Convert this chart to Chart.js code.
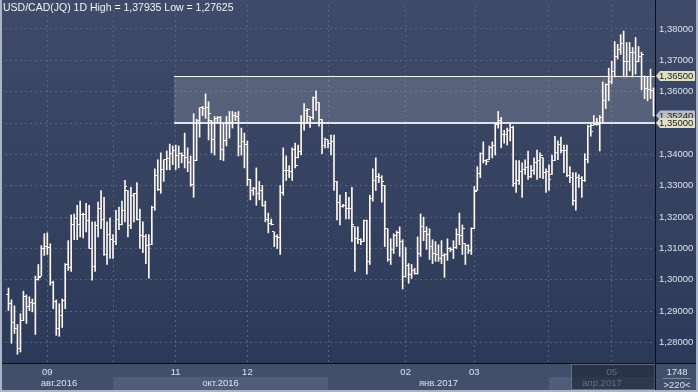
<!DOCTYPE html>
<html>
<head>
<meta charset="utf-8">
<script src="https://cdn.jsdelivr.net/npm/chart.js@4.4.0/dist/chart.umd.min.js"></script>
<style>
  html, body { margin: 0; padding: 0; background: #aab6c8; }
  #wrap { position: absolute; left: 0; top: 0; width: 698px; height: 392px; }
  canvas { display: block; }
</style>
</head>
<body>
<div id="wrap"><canvas id="c" width="698" height="392"></canvas></div>
<script>
// USD/CAD daily bars (one entry per day, left to right)
const highs = [
  1.2974, 1.2936, 1.2917, 1.2858, 1.2892, 1.2964, 1.2952, 1.2946, 1.2939, 1.3012,
  1.3049, 1.3109, 1.3147, 1.3150, 1.3115, 1.2996, 1.2936, 1.2924, 1.2939, 1.3052,
  1.3125, 1.3207, 1.3210, 1.3238, 1.3251, 1.3213, 1.3244, 1.3238, 1.3185, 1.3185,
  1.3248, 1.3285, 1.3263, 1.3185, 1.3197, 1.3144, 1.3222, 1.3232, 1.3251, 1.3317,
  1.3285, 1.3295, 1.3276, 1.3310, 1.3226, 1.3185, 1.3144, 1.3144, 1.3235, 1.3354,
  1.3383, 1.3405, 1.3383, 1.3411, 1.3433, 1.3427, 1.3430, 1.3427, 1.3405, 1.3468,
  1.3421, 1.3395, 1.3530, 1.3512, 1.3549, 1.3553, 1.3593, 1.3568, 1.3508, 1.3521,
  1.3521, 1.3521, 1.3499, 1.3521, 1.3537, 1.3537, 1.3534, 1.3537, 1.3484, 1.3468,
  1.3443, 1.3320, 1.3295, 1.3357, 1.3314, 1.3301, 1.3251, 1.3213, 1.3194, 1.3153,
  1.3144, 1.3301, 1.3421, 1.3395, 1.3364, 1.3421, 1.3436, 1.3430, 1.3524, 1.3562,
  1.3546, 1.3521, 1.3584, 1.3603, 1.3565, 1.3512, 1.3452, 1.3446, 1.3462, 1.3462,
  1.3314, 1.3270, 1.3241, 1.3279, 1.3263, 1.3295, 1.3169, 1.3169, 1.3131, 1.3191,
  1.3191, 1.3270, 1.3354, 1.3389, 1.3339, 1.3332, 1.3301, 1.3163, 1.3131, 1.3147,
  1.3156, 1.3169, 1.3128, 1.3103, 1.3052, 1.3049, 1.3037, 1.3137, 1.3210, 1.3200,
  1.3169, 1.3163, 1.3128, 1.3122, 1.3112, 1.3125, 1.3084, 1.3131, 1.3103, 1.3125,
  1.3163, 1.3213, 1.3175, 1.3115, 1.3112, 1.3166, 1.3298, 1.3361, 1.3405, 1.3440,
  1.3383, 1.3427, 1.3440, 1.3499, 1.3537, 1.3518, 1.3477, 1.3484, 1.3499, 1.3490,
  1.3380, 1.3380, 1.3373, 1.3383, 1.3411, 1.3364, 1.3389, 1.3414, 1.3405, 1.3389,
  1.3354, 1.3367, 1.3398, 1.3458, 1.3443, 1.3455, 1.3430, 1.3430, 1.3361, 1.3342,
  1.3342, 1.3336, 1.3329, 1.3402, 1.3493, 1.3496, 1.3524, 1.3515, 1.3524, 1.3631,
  1.3625, 1.3675, 1.3697, 1.3760, 1.3751, 1.3782, 1.37935, 1.3757, 1.3757, 1.3741,
  1.3773, 1.3744, 1.3726, 1.3650, 1.3647, 1.3672, 1.3612
];
const lows = [
  1.2902, 1.2798, 1.2829, 1.27625, 1.2770, 1.2870, 1.2861, 1.2902, 1.2898, 1.2826,
  1.2999, 1.3012, 1.3078, 1.3081, 1.2983, 1.2908, 1.2823, 1.2820, 1.2848, 1.2908,
  1.3030, 1.3027, 1.3128, 1.3128, 1.3137, 1.3134, 1.3153, 1.3100, 1.2999, 1.3027,
  1.3137, 1.3163, 1.3078, 1.3049, 1.3068, 1.3068, 1.3112, 1.3160, 1.3175, 1.3185,
  1.3137, 1.3163, 1.3185, 1.3191, 1.3100, 1.3087, 1.3052, 1.3005, 1.3112, 1.3222,
  1.3285, 1.3276, 1.3314, 1.3351, 1.3351, 1.3367, 1.3351, 1.3357, 1.3373, 1.3357,
  1.3345, 1.3298, 1.3263, 1.3380, 1.3455, 1.3524, 1.3515, 1.3446, 1.3405, 1.3398,
  1.3499, 1.3383, 1.3380, 1.3427, 1.3452, 1.3484, 1.3508, 1.3395, 1.3398, 1.3357,
  1.3301, 1.3255, 1.3270, 1.3238, 1.3255, 1.3235, 1.3185, 1.3150, 1.3175, 1.3106,
  1.3100, 1.3081, 1.3270, 1.3317, 1.3326, 1.3317, 1.3357, 1.3389, 1.3398, 1.3477,
  1.3499, 1.3486, 1.3512, 1.3540, 1.3490, 1.3402, 1.3421, 1.3421, 1.3398, 1.3285,
  1.3191, 1.3175, 1.3232, 1.3194, 1.3194, 1.3122, 1.3027, 1.3115, 1.3112, 1.3122,
  1.3018, 1.3049, 1.3251, 1.3285, 1.3310, 1.3248, 1.3106, 1.3059, 1.3049, 1.3084,
  1.3106, 1.3075, 1.2971, 1.3008, 1.2989, 1.3005, 1.3018, 1.3018, 1.3075, 1.3125,
  1.3097, 1.3065, 1.3052, 1.3059, 1.3059, 1.3052, 1.3008, 1.3062, 1.3090, 1.3068,
  1.3100, 1.3112, 1.3081, 1.3049, 1.3084, 1.3081, 1.3163, 1.3285, 1.3326, 1.3373,
  1.3367, 1.3383, 1.3389, 1.3398, 1.3484, 1.3421, 1.3436, 1.3430, 1.3443, 1.3298,
  1.3279, 1.3304, 1.3263, 1.3336, 1.3320, 1.3326, 1.3336, 1.3320, 1.3326, 1.3323,
  1.3279, 1.3285, 1.3336, 1.3380, 1.3383, 1.3405, 1.3342, 1.3329, 1.3310, 1.3238,
  1.3222, 1.3295, 1.3263, 1.3314, 1.3373, 1.3458, 1.3493, 1.3493, 1.3411, 1.3499,
  1.3546, 1.3571, 1.3625, 1.3647, 1.3704, 1.3719, 1.3647, 1.3647, 1.3666, 1.3647,
  1.3656, 1.3695, 1.3606, 1.3578, 1.3571, 1.3578, 1.3522
];
const opens = [
  1.2952, 1.2924, 1.2864, 1.2845, 1.2782, 1.2870, 1.2946, 1.2914, 1.2927, 1.2924,
  1.3002, 1.3012, 1.3100, 1.3106, 1.3103, 1.2993, 1.2930, 1.2845, 1.2886, 1.2933,
  1.3049, 1.3040, 1.3178, 1.3197, 1.3178, 1.3210, 1.3207, 1.3188, 1.3100, 1.3043,
  1.3172, 1.3226, 1.3194, 1.3081, 1.3144, 1.3128, 1.3122, 1.3194, 1.3175, 1.3222,
  1.3285, 1.3172, 1.3270, 1.3276, 1.3194, 1.3141, 1.3137, 1.3109, 1.3112, 1.3232,
  1.3332, 1.3288, 1.3351, 1.3383, 1.3386, 1.3402, 1.3411, 1.3395, 1.3402, 1.3398,
  1.3389, 1.3373, 1.3304, 1.3380, 1.3508, 1.3549, 1.3546, 1.3549, 1.3508, 1.3446,
  1.3515, 1.3518, 1.3417, 1.3443, 1.3499, 1.3502, 1.3524, 1.3521, 1.3424, 1.3440,
  1.3433, 1.3320, 1.3285, 1.3292, 1.3276, 1.3285, 1.3238, 1.3191, 1.3181, 1.3153,
  1.3137, 1.3134, 1.3279, 1.3348, 1.3348, 1.3345, 1.3417, 1.3389, 1.3408, 1.3499,
  1.3540, 1.3521, 1.3518, 1.3581, 1.3565, 1.3512, 1.3427, 1.3446, 1.3436, 1.3440,
  1.3314, 1.3248, 1.3235, 1.3238, 1.3229, 1.3229, 1.3169, 1.3131, 1.3128, 1.3122,
  1.3188, 1.3059, 1.3258, 1.3317, 1.3329, 1.3326, 1.3301, 1.3163, 1.3065, 1.3097,
  1.3141, 1.3150, 1.3122, 1.3012, 1.3046, 1.3018, 1.3030, 1.3021, 1.3084, 1.3169,
  1.3153, 1.3144, 1.3106, 1.3084, 1.3081, 1.3068, 1.3078, 1.3081, 1.3100, 1.3097,
  1.3103, 1.3144, 1.3141, 1.3115, 1.3109, 1.3093, 1.3163, 1.3285, 1.3339, 1.3402,
  1.3380, 1.3383, 1.3421, 1.3430, 1.3496, 1.3508, 1.3465, 1.3465, 1.3477, 1.3487,
  1.3307, 1.3317, 1.3345, 1.3351, 1.3357, 1.3329, 1.3348, 1.3373, 1.3380, 1.3389,
  1.3342, 1.3345, 1.3336, 1.3380, 1.3405, 1.3433, 1.3414, 1.3411, 1.3332, 1.3326,
  1.3254, 1.3326, 1.3323, 1.3317, 1.3383, 1.3490, 1.3493, 1.3496, 1.3496, 1.3518,
  1.3571, 1.3622, 1.3634, 1.3663, 1.3713, 1.3735, 1.3754, 1.3695, 1.3695, 1.3726,
  1.3726, 1.3695, 1.3713, 1.3650, 1.3609, 1.3606, 1.3603
];
const closes = [
  1.2924, 1.2864, 1.2845, 1.2782, 1.2870, 1.2946, 1.2914, 1.2927, 1.2924, 1.3002,
  1.3008, 1.3100, 1.3106, 1.3103, 1.2993, 1.2930, 1.2845, 1.2886, 1.2933, 1.3049,
  1.3040, 1.3178, 1.3197, 1.3178, 1.3210, 1.3207, 1.3188, 1.3100, 1.3043, 1.3172,
  1.3226, 1.3194, 1.3081, 1.3144, 1.3128, 1.3122, 1.3194, 1.3175, 1.3222, 1.3298,
  1.3172, 1.3270, 1.3276, 1.3194, 1.3141, 1.3137, 1.3109, 1.3112, 1.3232, 1.3332,
  1.3288, 1.3351, 1.3383, 1.3386, 1.3402, 1.3411, 1.3395, 1.3402, 1.3398, 1.3389,
  1.3373, 1.3304, 1.3380, 1.3508, 1.3549, 1.3546, 1.3549, 1.3530, 1.3446, 1.3515,
  1.3518, 1.3417, 1.3443, 1.3499, 1.3502, 1.3524, 1.3521, 1.3424, 1.3440, 1.3433,
  1.3320, 1.3285, 1.3292, 1.3276, 1.3285, 1.3238, 1.3191, 1.3181, 1.3178, 1.3137,
  1.3134, 1.3279, 1.3348, 1.3348, 1.3345, 1.3417, 1.3364, 1.3408, 1.3499, 1.3540,
  1.3543, 1.3518, 1.3581, 1.3565, 1.3512, 1.3427, 1.3446, 1.3436, 1.3440, 1.3314,
  1.3248, 1.3235, 1.3238, 1.3229, 1.3229, 1.3178, 1.3131, 1.3128, 1.3122, 1.3188,
  1.3059, 1.3258, 1.3317, 1.3329, 1.3326, 1.3314, 1.3163, 1.3065, 1.3097, 1.3141,
  1.3150, 1.3122, 1.3012, 1.3046, 1.3018, 1.3030, 1.3021, 1.3084, 1.3169, 1.3153,
  1.3144, 1.3106, 1.3084, 1.3081, 1.3068, 1.3078, 1.3081, 1.3100, 1.3097, 1.3103,
  1.3144, 1.3141, 1.3163, 1.3109, 1.3093, 1.3163, 1.3282, 1.3339, 1.3402, 1.3380,
  1.3376, 1.3421, 1.3430, 1.3496, 1.3508, 1.3465, 1.3465, 1.3477, 1.3487, 1.3307,
  1.3317, 1.3345, 1.3351, 1.3357, 1.3329, 1.3348, 1.3373, 1.3380, 1.3398, 1.3342,
  1.3345, 1.3320, 1.3380, 1.3405, 1.3433, 1.3414, 1.3411, 1.3332, 1.3326, 1.3254,
  1.3326, 1.3323, 1.3317, 1.3383, 1.3490, 1.3474, 1.3496, 1.3496, 1.3518, 1.3571,
  1.3622, 1.3634, 1.3663, 1.3713, 1.3735, 1.3754, 1.3695, 1.3695, 1.3726, 1.3726,
  1.3695, 1.3713, 1.3719, 1.3609, 1.3606, 1.3603, 1.3524
];

// axis ticks
const yTicks = [1.28, 1.29, 1.30, 1.31, 1.32, 1.33, 1.34, 1.35, 1.36, 1.37, 1.38];
const monthIdx = [13, 35, 56, 80, 107, 133, 156, 181, 202];      // first bar of each month
const monthText = ['09', '', '11', '12', '', '02', '03', '', '05'];
const quarterIdx = [35, 107, 181];                                  // oct, jan, apr
const quarterText = ['авг.2016', 'окт.2016', 'янв.2017', 'апр.2017'];

// drawn levels
const levelHigh = 1.365;
const levelLow = 1.35;
const levelFrom = 55.5;     // zone starts at the november bar
const selectFrom = 188.5;   // dark selection box in the time axis
const lastClose = closes[closes.length - 1];
const totalBars = '1748';
const shownBars = '>220<';

const FONT = 'Liberation Sans';
const barColor = '#fff8f2';
const textColor = '#dbe2f0';
const fmt = v => v.toFixed(5).replace('.', ',');

function tickImage(left) {
  const c = document.createElement('canvas');
  c.width = 5; c.height = 1;
  const g = c.getContext('2d');
  g.fillStyle = barColor;
  g.fillRect(left ? 0 : 3, 0, 2, 1);
  return c;
}

function priceTag(ctx, y, text, bg) {
  const x0 = 656, x1 = 695, h = 10;
  ctx.beginPath();
  ctx.moveTo(x0, y);
  ctx.lineTo(x0 + 4, y - h / 2);
  ctx.lineTo(x1, y - h / 2);
  ctx.lineTo(x1, y + h / 2);
  ctx.lineTo(x0 + 4, y + h / 2);
  ctx.closePath();
  ctx.fillStyle = bg;
  ctx.fill();
  ctx.fillStyle = '#1c1c1c';
  ctx.textAlign = 'left';
  ctx.textBaseline = 'middle';
  ctx.fillText(text, 659, y + 0.5);
}

// keep chart area edge to edge: no half-label padding from the axes
function noPad(s) {
  s.paddingTop = 0; s.paddingBottom = 0;
  s.paddingLeft = 0; s.paddingRight = 0;
}

const decorPlugin = {
  id: 'decor',
  beforeDraw(chart) {
    const { ctx, chartArea: a, scales: { x } } = chart;
    ctx.save();
    // frame
    ctx.fillStyle = '#aab6c8';
    ctx.fillRect(0, 0, 698, 392);
    // plot + price panel
    const g = ctx.createLinearGradient(0, 0, 0, a.bottom);
    g.addColorStop(0, '#3f4b68');
    g.addColorStop(1, '#2c3958');
    ctx.fillStyle = g;
    ctx.fillRect(2, 0, 694, a.bottom);
    // time panel
    ctx.fillStyle = '#424f6b';
    ctx.fillRect(2, a.bottom, 694, 390 - a.bottom);
    // alternate quarter bands
    ctx.fillStyle = '#505d79';
    const q0 = x.getPixelForValue(quarterIdx[0]);
    const q1 = x.getPixelForValue(quarterIdx[1]);
    const q2 = x.getPixelForValue(quarterIdx[2]);
    ctx.fillRect(q0, 377, q1 - q0, 13);
    ctx.fillRect(q2, 377, a.right - q2, 13);
    ctx.restore();
  },
  beforeDatasetsDraw(chart) {
    const { ctx, chartArea: a, scales: { x, y } } = chart;
    const x0 = Math.round(x.getPixelForValue(levelFrom));
    const yh = Math.round(y.getPixelForValue(levelHigh));
    const yl = Math.round(y.getPixelForValue(levelLow));
    ctx.save();
    ctx.fillStyle = 'rgba(255,255,255,0.15)';
    ctx.fillRect(x0, yh, a.right - x0, yl - yh);
    ctx.fillStyle = '#f4f4f4';
    ctx.fillRect(x0, yh, a.right - x0, 1);
    ctx.fillStyle = '#dfe2ea';
    ctx.fillRect(x0, yl - 1, a.right - x0, 2);
    ctx.restore();
  },
  afterDraw(chart) {
    const { ctx, chartArea: a, scales: { x, y } } = chart;
    ctx.save();
    ctx.font = '9.5px "' + FONT + '"';

    // quarter labels, centred in their visible span
    const edges = [a.left].concat(quarterIdx.map(v => x.getPixelForValue(v)), [a.right]);
    ctx.fillStyle = textColor;
    ctx.textAlign = 'center';
    ctx.textBaseline = 'middle';
    quarterText.forEach((t, i) => {
      ctx.fillText(t, (edges[i] + edges[i + 1]) / 2, 383);
    });

    // selection box
    const sx = Math.round(x.getPixelForValue(selectFrom)) + 0.5;
    ctx.fillStyle = 'rgba(24,32,52,0.62)';
    ctx.fillRect(sx, 364, a.right - sx, 26);
    ctx.strokeStyle = 'rgba(110,122,146,0.8)';
    ctx.lineWidth = 1;
    ctx.strokeRect(sx, 364.5, a.right - sx, 25);

    // separators
    ctx.fillStyle = '#0d1018';
    ctx.fillRect(2, a.bottom, 694, 1);
    ctx.fillRect(a.right, 0, 1, 390);

    // bar counter
    ctx.fillStyle = textColor;
    ctx.fillText(totalBars, 677, 372);
    ctx.fillText(shownBars, 677, 385);
    ctx.fillStyle = '#7d89a0';
    ctx.fillRect(663, 378, 28, 1);

    // price tags
    priceTag(ctx, y.getPixelForValue(levelHigh), fmt(levelHigh), '#e2e0c4');
    priceTag(ctx, y.getPixelForValue(lastClose), fmt(lastClose), '#b9bdc6');
    priceTag(ctx, y.getPixelForValue(levelLow), fmt(levelLow), '#e2e0c4');

    // title
    ctx.font = '10.5px "' + FONT + '"';
    ctx.fillStyle = '#f2f4f8';
    ctx.textAlign = 'left';
    ctx.textBaseline = 'middle';
    ctx.fillText('USD/CAD(JQ) 1D High = ' + fmt(Math.max(...highs)) +
      ' Low = ' + fmt(Math.min(...lows)), 3, 8);
    ctx.restore();
  }
};

const gridColor = '#55637f';
const ctx = document.getElementById('c').getContext('2d');
new Chart(ctx, {
  type: 'bar',
  data: {
    datasets: [
      {
        type: 'bar',
        data: highs.map((h, i) => ({ x: i, y: [lows[i], h] })),
        backgroundColor: barColor,
        borderWidth: 0,
        barThickness: 1
      },
      {
        type: 'scatter',
        data: opens.map((v, i) => ({ x: i, y: v })),
        pointStyle: tickImage(true),
        pointRadius: 2,
        showLine: false
      },
      {
        type: 'scatter',
        data: closes.map((v, i) => ({ x: i, y: v })),
        pointStyle: tickImage(false),
        pointRadius: 2,
        showLine: false
      }
    ]
  },
  options: {
    responsive: false,
    animation: false,
    events: [],
    layout: { padding: { left: 2, top: 0, right: 0, bottom: 0 } },
    plugins: { legend: { display: false }, tooltip: { enabled: false } },
    scales: {
      x: {
        type: 'linear',
        min: -1.1667,
        max: 216.5,
        offset: false,
        grid: { color: gridColor, drawTicks: false, offset: false },
        border: { display: false, dash: [2, 3] },
        ticks: {
          autoSkip: false,
          maxRotation: 0,
          padding: 4,
          color: textColor,
          font: { family: FONT, size: 9.5 },
          callback: v => {
            const k = monthIdx.indexOf(v);
            return k >= 0 ? monthText[k] : '';
          }
        },
        afterBuildTicks: s => { s.ticks = monthIdx.map(v => ({ value: v })); },
        afterFit: s => { s.height = 29; noPad(s); }
      },
      y: {
        position: 'right',
        min: 1.38 - 338.7 / 3180,
        max: 1.38 + 24.3 / 3180,
        grid: { color: gridColor, drawTicks: false },
        border: { display: false, dash: [2, 3] },
        ticks: {
          padding: 4,
          color: textColor,
          font: { family: FONT, size: 9.5 },
          callback: v => fmt(v)
        },
        afterBuildTicks: s => { s.ticks = yTicks.map(v => ({ value: v })); },
        afterFit: s => { s.width = 43; noPad(s); }
      }
    }
  },
  plugins: [decorPlugin]
});
</script>
</body>
</html>
